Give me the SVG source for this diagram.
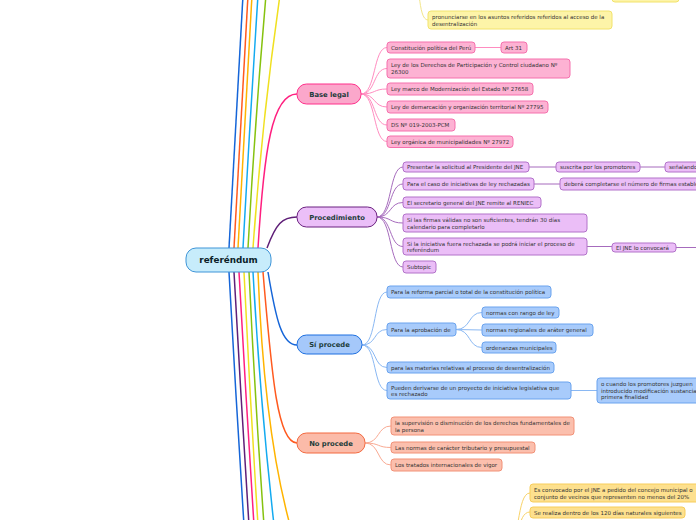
<svg xmlns="http://www.w3.org/2000/svg" width="696" height="520" viewBox="0 0 696 520">
<style>
.t{font-family:"DejaVu Sans",Verdana,sans-serif;font-size:5.5px;fill:#333}
.b{font-family:"DejaVu Sans",Verdana,sans-serif;font-size:6.8px;font-weight:bold;fill:#1d3c3a}
.br{fill:none;stroke-width:1.5}
.c{fill:none;stroke-width:1}
.pk{fill:#fdb2d3;stroke:#f570ad;stroke-width:1}
.pu{fill:#ebbef7;stroke:#b272c9;stroke-width:1}
.bl{fill:#a8cbfb;stroke:#6aa3ee;stroke-width:1}
.or{fill:#fbbfad;stroke:#f29177;stroke-width:1}
.ye{fill:#fdf4a8;stroke:#f2e36c;stroke-width:1}
.yo{fill:#fde08e;stroke:#f7cd5a;stroke-width:1}
</style>
<rect width="696" height="520" fill="#fff"/>
<g id="connectors">
<!-- main branches up -->
<path class="br" stroke="#1565d8" d="M229,248 Q236,120 243,-5"/>
<path class="br" stroke="#ff5a1f" d="M234,248 Q241,120 248,-5"/>
<path class="br" stroke="#ffb400" d="M238,248 Q245,120 252,-5"/>
<path class="br" stroke="#13aaf0" d="M243,248 Q250,120 258,-5"/>
<path class="br" stroke="#86c20f" d="M248,248 Q255,120 266,-5"/>
<path class="br" stroke="#f0e020" d="M253,248 Q262,120 280,-5"/>
<path class="br" stroke="#ff1f7f" d="M258,248 C264,150 272,94 297,94"/>
<path class="br" stroke="#5f1f78" d="M267,248 C276,224 282,217 297,217"/>
<!-- main branches down -->
<path class="br" stroke="#1565d8" d="M229,272 Q236,400 244,525"/>
<path class="br" stroke="#5f1f78" d="M234,272 Q241,400 249,525"/>
<path class="br" stroke="#ff1f7f" d="M239,272 Q246,400 254,525"/>
<path class="br" stroke="#f0e020" d="M244,272 Q250,400 258,525"/>
<path class="br" stroke="#86c20f" d="M249,272 Q255,400 264,525"/>
<path class="br" stroke="#13aaf0" d="M253,272 Q260,400 274,525"/>
<path class="br" stroke="#ffb400" d="M258,272 Q264,430 290,525"/>
<path class="br" stroke="#ff5a1f" d="M263,272 C272,380 278,443 297,443"/>
<path class="br" stroke="#1565d8" d="M268,272 C276,320 282,345 297,345"/>
<!-- Base legal -->
<g stroke="#ff8cc0">
<path class="c" d="M361,94 C376,94 373,47.5 387,47.5"/>
<path class="c" d="M361,94 C376,94 373,68.5 387,68.5"/>
<path class="c" d="M361,94 C376,94 373,89 387,89"/>
<path class="c" d="M361,94 C376,94 373,107 387,107"/>
<path class="c" d="M361,94 C376,94 373,125 387,125"/>
<path class="c" d="M361,94 C376,94 373,141.5 387,141.5"/>
<path class="c" d="M475,47.5 L501,47.5"/>
</g>
<!-- Procedimiento -->
<g stroke="#a66bbd">
<path class="c" d="M377,217 C392,217 389,167 403,167"/>
<path class="c" d="M377,217 C392,217 389,184 403,184"/>
<path class="c" d="M377,217 C392,217 389,202.5 403,202.5"/>
<path class="c" d="M377,217 C392,217 389,223 403,223"/>
<path class="c" d="M377,217 C392,217 389,246.5 403,246.5"/>
<path class="c" d="M377,217 C392,217 389,267 403,267"/>
<path class="c" d="M529,167 L556,167"/>
<path class="c" d="M640,167 L665,167"/>
<path class="c" d="M534,184 L560,184"/>
<path class="c" d="M587,246.5 L612,246.5"/>
<path class="c" d="M676,247.5 L700,247.5"/>
</g>
<!-- Si procede -->
<g stroke="#8ab8f3">
<path class="c" d="M362,345 C377,345 373,292 387,292"/>
<path class="c" d="M362,345 C377,345 373,329.5 387,329.5"/>
<path class="c" d="M362,345 C377,345 373,367.5 387,367.5"/>
<path class="c" d="M362,345 C377,345 373,390.5 387,390.5"/>
<path class="c" d="M456,329.5 C471,329.5 468,312.5 482,312.5"/>
<path class="c" d="M456,329.5 L482,330"/>
<path class="c" d="M456,329.5 C471,329.5 468,347.5 482,347.5"/>
<path class="c" d="M571,390.5 L597,390.5"/>
</g>
<!-- No procede -->
<g stroke="#f9aa93">
<path class="c" d="M365,443 C380,443 377,426 391,426"/>
<path class="c" d="M365,443 C380,443 377,447.5 391,447.5"/>
<path class="c" d="M365,443 C380,443 377,465 391,465"/>
</g>
<!-- yellow -->
<path class="c" stroke="#f3e68a" d="M412,-30 C421,-25 417,20 428,20"/>
<path class="c" stroke="#f8d36a" d="M505,548 C521,548 516,493 530,493"/>
<path class="c" stroke="#f8d36a" d="M505,548 C521,548 516,512 530,512"/>
</g>
<g id="root">
<rect x="186" y="248" width="85" height="24" rx="10" fill="#c7ecfb" stroke="#3e95d8" stroke-width="1"/>
<text x="228.5" y="263.2" text-anchor="middle" font-family="DejaVu Sans,Verdana,sans-serif" font-size="8.8" font-weight="bold" fill="#0b1f2a">referéndum</text>
</g>
<g id="base-legal">
<rect x="297" y="84" width="64" height="20" rx="9.5" fill="#fba7cb" stroke="#ff2f8a" stroke-width="1"/>
<text class="b" x="329" y="96.5" text-anchor="middle">Base legal</text>
</g>
<g id="bl1"><rect class="pk" x="387" y="42" width="88" height="11" rx="3"/><text class="t" x="391" y="49.5">Constitución política del Perú</text></g>
<g id="bl1a"><rect class="pk" x="501" y="42" width="26" height="11" rx="3"/><text class="t" x="505" y="49.5">Art 31</text></g>
<g id="bl2"><rect class="pk" x="387" y="59" width="183" height="19" rx="3"/><text class="t" x="391" y="67.2">Ley de los Derechos de Participación y Control ciudadano Nº</text><text class="t" x="391" y="73.8">26300</text></g>
<g id="bl3"><rect class="pk" x="387" y="83" width="146" height="12" rx="3"/><text class="t" x="391" y="91">Ley marco de Modernización del Estado Nº 27658</text></g>
<g id="bl4"><rect class="pk" x="387" y="101" width="161" height="12" rx="3"/><text class="t" x="391" y="109">Ley de demarcación y organización territorial Nº 27795</text></g>
<g id="bl5"><rect class="pk" x="387" y="119" width="68" height="12" rx="3"/><text class="t" x="391" y="127">DS Nº 019-2003-PCM</text></g>
<g id="bl6"><rect class="pk" x="387" y="136" width="126" height="11.5" rx="3"/><text class="t" x="391" y="143.7">Ley orgánica de municipalidades Nº 27972</text></g>
<g id="procedimiento">
<rect x="297" y="207" width="80" height="20" rx="9.5" fill="#ebbff8" stroke="#6b2180" stroke-width="1"/>
<text class="b" x="337" y="219.5" text-anchor="middle">Procedimiento</text>
</g>
<g id="p1"><rect class="pu" x="403" y="162" width="126" height="10" rx="3"/><text class="t" x="407" y="169">Presentar la solicitud al Presidente del JNE</text></g>
<g id="p1a"><rect class="pu" x="556" y="162" width="84" height="10" rx="3"/><text class="t" x="560" y="169">suscrita por los promotores</text></g>
<g id="p1b"><rect class="pu" x="665" y="162" width="60" height="10" rx="3"/><text class="t" x="669" y="169">señalando</text></g>
<g id="p2"><rect class="pu" x="403" y="178" width="131" height="12" rx="3"/><text class="t" x="407" y="186">Para el caso de iniciativas de ley rechazadas</text></g>
<g id="p2a"><rect class="pu" x="560" y="178" width="160" height="12" rx="3"/><text class="t" x="564" y="186">deberá completarse el número de firmas estable</text></g>
<g id="p3"><rect class="pu" x="403" y="197" width="138" height="11" rx="3"/><text class="t" x="407" y="204.5">El secretario general del JNE remite al RENIEC</text></g>
<g id="p4"><rect class="pu" x="403" y="214" width="184" height="18" rx="3"/><text class="t" x="407" y="222">Si las firmas válidas no son suficientes, tendrán 30 días</text><text class="t" x="407" y="228.6">calendario para completarlo</text></g>
<g id="p5"><rect class="pu" x="403" y="238" width="184" height="17" rx="3"/><text class="t" x="407" y="245.6">Si la iniciativa fuera rechazada se podrá iniciar el proceso de</text><text class="t" x="407" y="252.2">referéndum</text></g>
<g id="p5a"><rect class="pu" x="612" y="243" width="64" height="9" rx="3"/><text class="t" x="616" y="249.6">El JNE lo convocará</text></g>
<g id="p6"><rect class="pu" x="403" y="261" width="33" height="12" rx="3"/><text class="t" x="407" y="269">Subtopic</text></g>
<g id="si-procede">
<rect x="297" y="335" width="65" height="19" rx="9.5" fill="#a5c8fa" stroke="#1d6fe0" stroke-width="1"/>
<text class="b" x="329.5" y="347" text-anchor="middle">Sí procede</text>
</g>
<g id="s1"><rect class="bl" x="387" y="286" width="164" height="12" rx="3"/><text class="t" x="391" y="294">Para la reforma parcial o total de la constitución política</text></g>
<g id="s2"><rect class="bl" x="387" y="323" width="69" height="13" rx="3"/><text class="t" x="391" y="331.5">Para la aprobación de</text></g>
<g id="s2a"><rect class="bl" x="482" y="307" width="77" height="11" rx="3"/><text class="t" x="486" y="314.5">normas con rango de ley</text></g>
<g id="s2b"><rect class="bl" x="482" y="324" width="111" height="12" rx="3"/><text class="t" x="486" y="332">normas regionales de aráter general</text></g>
<g id="s2c"><rect class="bl" x="482" y="342" width="74" height="11" rx="3"/><text class="t" x="486" y="349.5">ordenanzas municipales</text></g>
<g id="s3"><rect class="bl" x="387" y="362" width="167" height="11" rx="3"/><text class="t" x="391" y="369.5">para las materias relativas al proceso de desentralización</text></g>
<g id="s4"><rect class="bl" x="387" y="382" width="184" height="17" rx="3"/><text class="t" x="391" y="389.6">Pueden derivarse de un proyecto de iniciativa legislativa que</text><text class="t" x="391" y="396.2">es rechazado</text></g>
<g id="s4a"><rect class="bl" x="597" y="378" width="130" height="25" rx="3"/><text class="t" x="601" y="386">o cuando los promotores juzguen</text><text class="t" x="601" y="392.6">introducido modificación sustancial</text><text class="t" x="601" y="399.2">primera finalidad</text></g>
<g id="no-procede">
<rect x="297" y="433" width="68" height="20" rx="9.5" fill="#fbbba9" stroke="#f3693f" stroke-width="1"/>
<text class="b" x="331" y="445.5" text-anchor="middle">No procede</text>
</g>
<g id="n1"><rect class="or" x="391" y="417" width="183" height="18" rx="3"/><text class="t" x="395" y="425">la supervisión o disminución de los derechos fundamentales de</text><text class="t" x="395" y="431.6">la persona</text></g>
<g id="n2"><rect class="or" x="391" y="442" width="144" height="11" rx="3"/><text class="t" x="395" y="449.5">Las normas de carácter tributario y presupuestal</text></g>
<g id="n3"><rect class="or" x="391" y="459" width="111" height="12" rx="3"/><text class="t" x="395" y="467">Los tratados internacionales de vigor</text></g>
<g id="y1"><rect class="ye" x="428" y="11" width="184" height="18" rx="3"/><text class="t" x="432" y="19">pronunciarse en los asuntos referidos referidos al acceso de la</text><text class="t" x="432" y="25.6">desentralización</text></g>
<g id="y0"><rect class="ye" x="612" y="-20" width="67" height="22" rx="3"/></g>
<g id="z1"><rect class="yo" x="530" y="484" width="200" height="18" rx="3"/><text class="t" x="534" y="492">Es convocado por el JNE a pedido del concejo municipal o</text><text class="t" x="534" y="498.6">conjunto de vecinos que representen no menos del 20%</text></g>
<g id="z2"><rect class="yo" x="530" y="507" width="155" height="11" rx="3"/><text class="t" x="534" y="514.5">Se realiza dentro de los 120 días naturales siguientes</text></g>
</svg>
